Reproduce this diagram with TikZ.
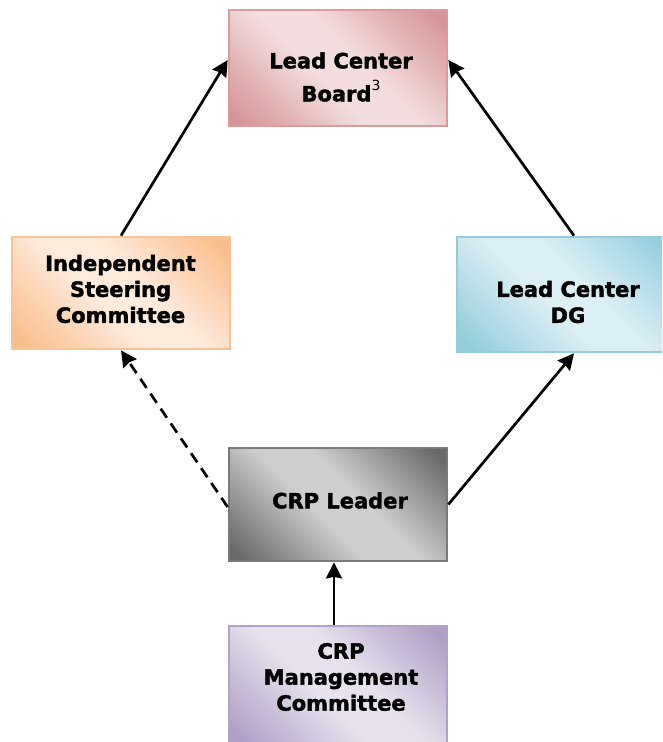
\documentclass[tikz,border=0pt]{standalone}
\usepackage{fontspec}
\setmainfont{DejaVu Sans}[BoldFeatures={FakeBold=1.8}]
\usetikzlibrary{arrows.meta}
\definecolor{pinkD}{HTML}{D69698}
\definecolor{pinkL}{HTML}{F3DDDE}
\definecolor{pinkB}{HTML}{DA9B9D}
\definecolor{oraD}{HTML}{FABE8C}
\definecolor{oraL}{HTML}{FDEBDC}
\definecolor{oraB}{HTML}{F9C394}
\definecolor{bluD}{HTML}{92CDDC}
\definecolor{bluL}{HTML}{DCEFF4}
\definecolor{bluB}{HTML}{93CDDD}
\definecolor{gryD}{HTML}{6A6A6A}
\definecolor{gryL}{HTML}{CECECE}
\definecolor{gryB}{HTML}{7A7A7A}
\definecolor{purD}{HTML}{B09FC6}
\definecolor{purL}{HTML}{E7E2ED}
\definecolor{purB}{HTML}{B3A2C7}
\pgfdeclarehorizontalshading{pinkshd}{100bp}{color(0bp)=(pinkD); color(18bp)=(pinkD); color(44bp)=(pinkL); color(56bp)=(pinkL); color(82bp)=(pinkD); color(100bp)=(pinkD)}
\pgfdeclarehorizontalshading{orashd}{100bp}{color(0bp)=(oraD); color(18bp)=(oraD); color(44bp)=(oraL); color(56bp)=(oraL); color(82bp)=(oraD); color(100bp)=(oraD)}
\pgfdeclarehorizontalshading{blushd}{100bp}{color(0bp)=(bluD); color(18bp)=(bluD); color(44bp)=(bluL); color(56bp)=(bluL); color(82bp)=(bluD); color(100bp)=(bluD)}
\pgfdeclarehorizontalshading{gryshd}{100bp}{color(0bp)=(gryD); color(18bp)=(gryD); color(44bp)=(gryL); color(56bp)=(gryL); color(82bp)=(gryD); color(100bp)=(gryD)}
\pgfdeclarehorizontalshading{purshd}{100bp}{color(0bp)=(purD); color(18bp)=(purD); color(44bp)=(purL); color(56bp)=(purL); color(82bp)=(purD); color(100bp)=(purD)}
\tikzset{
  box/.style={draw, line width=2.7pt, rectangle, inner sep=0pt},
  shd/.style={shade, shading=#1, shading angle=45},
  lbl/.style={inner sep=0pt, align=center, font=\fontsize{21}{26}\selectfont\bfseries},
  conn/.style={line width=2.7pt, -{Stealth[length=16pt,width=16pt,inset=1.5pt]}},
}
\begin{document}
\begin{tikzpicture}[x=1pt,y=-1pt]
\useasboundingbox (0,0) rectangle (662,742);
\clip (0,0) rectangle (662,742);
% boxes
\node[box, draw=pinkB, shd=pinkshd, minimum width=218pt, minimum height=116pt] (lcb) at (338,68) {};
\node[box, draw=oraB, shd=orashd, minimum width=218pt, minimum height=112pt] (isc) at (121,293) {};
\node[box, draw=bluB, shd=blushd, minimum width=220pt, minimum height=115pt] (ld) at (567,294.5) {};
\node[box, draw=gryB, shd=gryshd, minimum width=218pt, minimum height=113pt] (crp) at (338,504.5) {};
\node[box, draw=purB, shd=purshd, minimum width=218pt, minimum height=118pt] (mc) at (338,685) {};
% texts
\node[lbl] (lcbt) at (341,77) {Lead Center\\[7pt]Board\raisebox{11pt}{\fontsize{14}{14}\selectfont\mdseries 3}};
\node[lbl] (isct) at (120.5,289) {Independent\\Steering\\Committee};
\node[lbl] (ldt) at (568,302) {Lead Center\\DG};
\node[lbl] (crpt) at (340,500.5) {CRP Leader};
\node[lbl] (mct) at (341,677) {CRP\\Management\\Committee};
% connectors
\draw[conn] (isc.north) -- ([yshift=8pt]lcb.west);
\draw[conn] ([xshift=7pt]ld.north) -- ([yshift=8pt]lcb.east);
\draw[conn, dash pattern=on 11pt off 7pt] ([yshift=-2.5pt]crp.west) -- (isc.south);
\draw[conn] (crp.east) -- ([xshift=7pt]ld.south);
\draw[conn] ([xshift=-4pt]mc.north) -- ([xshift=-4pt]crp.south);
\end{tikzpicture}
\end{document}
